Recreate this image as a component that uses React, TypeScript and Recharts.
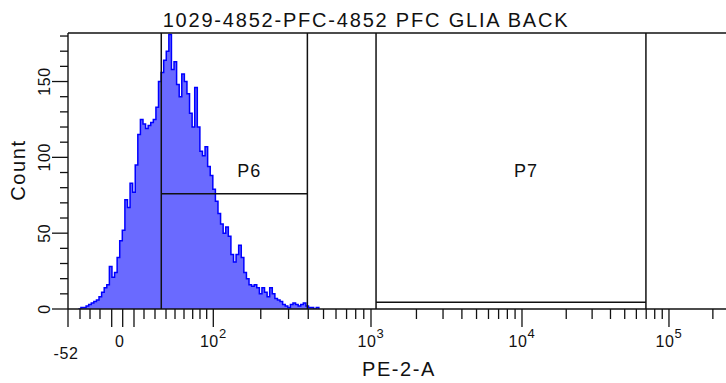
import React from 'react';
import { AreaChart, Area, XAxis, YAxis, ReferenceLine, ReferenceDot } from 'recharts';

// histogram counts per display channel (256 channels across the PE-2-A axis)
const HIST_START_CHANNEL = 4;
const HIST_COUNTS = [
  0, 1, 1, 2, 3, 4, 5, 6, 8, 11, 14, 16, 28, 21, 24, 34, 45, 52, 72, 67,
  83, 77, 95, 115, 125, 122, 119, 121, 123, 125, 133, 150, 156, 164, 170, 181, 158, 163, 148, 140,
  155, 150, 142, 129, 120, 146, 120, 104, 101, 107, 94, 88, 79, 71, 63, 56, 50, 54, 48, 36,
  31, 36, 42, 34, 24, 20, 16, 15, 16, 14, 10, 14, 11, 8, 14, 10, 7, 6, 5, 3,
  2, 1, 3, 4, 3, 2, 3, 4, 2, 1, 1, 0, 1, 0,
];

// biexponential axis: known values and the display channel they sit on
const ANCHOR_VALUES = [-52, -40, -30, -20, -10, 0, 10, 20, 30, 40, 50, 60, 70, 80, 90, 100, 1000, 10000, 100000, 262144];
const ANCHOR_CHANNELS = [0, 4.64, 8.51, 12.37, 16.9, 21.15, 25.52, 29.39, 33.64, 37.9, 41.38, 44.86, 48.22, 51.04, 53.63, 56.19, 117.17, 175.56, 232.4, 256];

const X_TICK_VALUES = [
  -52, -40, -30, -20, -10, 0, 10, 20, 30, 40, 50, 60, 70, 80, 90,
  100, 200, 300, 400, 500, 600, 700, 800, 900,
  1000, 2000, 3000, 4000, 5000, 6000, 7000, 8000, 9000,
  10000, 20000, 30000, 40000, 50000, 60000, 70000, 80000, 90000,
  100000, 200000,
];
const X_LONG_TICKS = [-52, -10, 0, 10, 100, 1000, 10000, 100000];
const X_LABEL_VALUES = [-52, 0, 100, 1000, 10000, 100000];
const X_LABEL_BASE = ['-52', '0', '10', '10', '10', '10'];
const X_LABEL_EXP = ['', '', '2', '3', '4', '5'];

const Y_MAX = 182;
const Y_TICKS = [0, 10, 20, 30, 40, 50, 60, 70, 80, 90, 100, 110, 120, 130, 140, 150, 160, 170, 180];
const Y_LABELS = [0, 50, 100, 150];

const GATE_NAMES = ['P6', 'P7'];
const GATE_LOW = [35.7, 1080];
const GATE_HIGH = [395, 69700];
const GATE_LEVEL = [76, 4.4];

const TITLE = '1029-4852-PFC-4852 PFC GLIA BACK';
const X_TITLE = 'PE-2-A';
const Y_TITLE = 'Count';

const FONT = '"Liberation Sans", Arial, Helvetica, sans-serif';
const INK = '#111';

const toChannel = (v: number) => {
  for (let i = 1; i < ANCHOR_VALUES.length; i++) {
    const a = ANCHOR_VALUES[i - 1];
    const b = ANCHOR_VALUES[i];
    if (v <= b || i === ANCHOR_VALUES.length - 1) {
      const ca = ANCHOR_CHANNELS[i - 1];
      const cb = ANCHOR_CHANNELS[i];
      const t = a >= 100 ? Math.log10(v / a) / Math.log10(b / a) : (v - a) / (b - a);
      return ca + t * (cb - ca);
    }
  }
  return 0;
};

const data = HIST_COUNTS.map((count, i) => ({ ch: HIST_START_CHANNEL + i, count }));
const xTicks = X_TICK_VALUES.map(toChannel);

const XTick = (props: any) => {
  const { x, y, payload } = props;
  const value = X_TICK_VALUES.find((v) => Math.abs(toChannel(v) - payload.value) < 1e-6);
  const long = value !== undefined && X_LONG_TICKS.includes(value);
  const li = value === undefined ? -1 : X_LABEL_VALUES.indexOf(value);
  let label = null;
  if (li >= 0) {
    const exp = X_LABEL_EXP[li];
    const base = X_LABEL_BASE[li];
    const dx = value === 0 ? -3 : value === -52 ? -2 : 0;
    const dy = value === -52 ? 49.5 : 37.5;
    label = (
      <text x={x + dx} y={y + dy} textAnchor="middle" fontSize={16} fontFamily={FONT} fill={INK} letterSpacing={0.6}>
        {base}
        {exp && (
          <tspan dy={-9} fontSize={13}>
            {exp}
          </tspan>
        )}
      </text>
    );
  }
  return (
    <g>
      <line x1={x} x2={x} y1={y} y2={y + (long ? 18 : 10)} stroke={INK} strokeWidth={1.3} />
      {label}
    </g>
  );
};

const YTick = (props: any) => {
  const { x, y, payload } = props;
  const major = Y_LABELS.includes(payload.value);
  const lx = x - 23.5;
  return (
    <g>
      <line x1={x - (major ? 16 : 8)} x2={x} y1={y} y2={y} stroke={INK} strokeWidth={1.3} />
      {major && (
        <text
          x={lx}
          y={y}
          dy="0.36em"
          transform={`rotate(-90 ${lx} ${y})`}
          textAnchor="middle"
          fontSize={16}
          fontFamily={FONT}
          fill={INK}
          letterSpacing={0.6}
        >
          {payload.value}
        </text>
      )}
    </g>
  );
};

const GateLabel = (name: string) => (props: any) => (
  <text
    x={props.cx + 15}
    y={props.cy}
    dy="0.36em"
    textAnchor="middle"
    fontSize={18}
    fontFamily={FONT}
    fill={INK}
    letterSpacing={1}
  >
    {name}
  </text>
);

export default function App() {
  return (
    <div
      style={{
        position: 'fixed',
        left: 0,
        top: 0,
        width: 726,
        height: 383,
        overflow: 'hidden',
        background: '#fff',
      }}
    >
      <AreaChart width={740} height={383} data={data} margin={{ top: 33, right: 10, bottom: 14, left: 8 }}>
        <XAxis
          dataKey="ch"
          type="number"
          domain={[0, 256]}
          ticks={xTicks}
          interval={0}
          height={60}
          tickSize={0}
          tickMargin={0}
          tickLine={false}
          tick={<XTick />}
          axisLine={{ stroke: INK, strokeWidth: 1.4 }}
          allowDataOverflow
        />
        <YAxis
          type="number"
          domain={[0, Y_MAX]}
          ticks={Y_TICKS}
          interval={0}
          width={60}
          tickSize={0}
          tickMargin={0}
          tickLine={false}
          tick={<YTick />}
          axisLine={{ stroke: INK, strokeWidth: 1.4 }}
          allowDataOverflow
        />
        <Area
          type="stepAfter"
          dataKey="count"
          stroke="#0000ff"
          strokeWidth={1.5}
          fill="#6a6aff"
          fillOpacity={1}
          dot={false}
          activeDot={false}
          isAnimationActive={false}
        />
        <ReferenceLine y={Y_MAX} stroke={INK} strokeWidth={1.4} />
        {GATE_NAMES.map((name, i) => (
          <React.Fragment key={name}>
            <ReferenceLine x={toChannel(GATE_LOW[i])} stroke={INK} strokeWidth={1.5} />
            <ReferenceLine x={toChannel(GATE_HIGH[i])} stroke={INK} strokeWidth={1.5} />
            <ReferenceLine
              segment={[
                { x: toChannel(GATE_LOW[i]), y: GATE_LEVEL[i] },
                { x: toChannel(GATE_HIGH[i]), y: GATE_LEVEL[i] },
              ]}
              stroke={INK}
              strokeWidth={1.5}
            />
            <ReferenceDot
              x={(toChannel(GATE_LOW[i]) + toChannel(GATE_HIGH[i])) / 2}
              y={91}
              r={0}
              shape={GateLabel(name)}
            />
          </React.Fragment>
        ))}
      </AreaChart>
      <svg
        width={726}
        height={383}
        style={{ position: 'absolute', left: 0, top: 0, pointerEvents: 'none' }}
      >
        <text x={366} y={26.5} textAnchor="middle" fontSize={20} fontFamily={FONT} fill={INK} letterSpacing={1.8}>
          {TITLE}
        </text>
        <text x={399} y={376} textAnchor="middle" fontSize={20} fontFamily={FONT} fill={INK} letterSpacing={1.6}>
          {X_TITLE}
        </text>
        <text
          x={17.5}
          y={170}
          dy="0.36em"
          transform="rotate(-90 17.5 170)"
          textAnchor="middle"
          fontSize={20}
          fontFamily={FONT}
          fill={INK}
          letterSpacing={1.6}
        >
          {Y_TITLE}
        </text>
      </svg>
    </div>
  );
}
